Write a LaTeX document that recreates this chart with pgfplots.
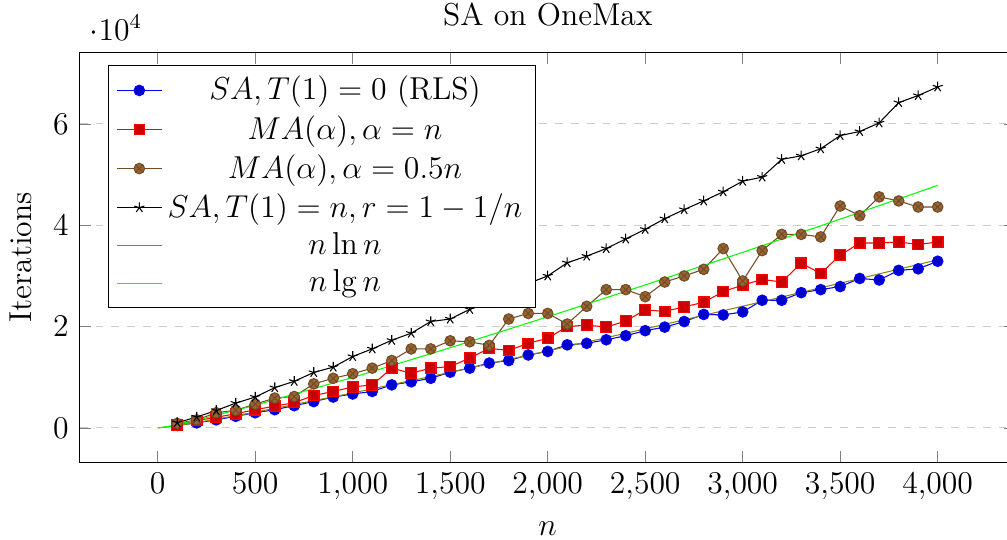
\documentclass[12pt,border=0pt]{standalone}
\usepackage{pgfplots}
\pgfplotsset{compat=1.18}
\begin{document}
\begin{tikzpicture}
\begin{axis}[
  scale only axis,
  width=354.5pt, height=155pt,
  title={SA on OneMax},
  xlabel={$n$}, ylabel={Iterations},
  xtick={0,500,...,4000},
  ytick={0,20000,40000,60000},
  ymajorgrids, grid style={dashed, gray!40},
  legend pos=north west,
  legend cell align=center,
]
\addplot coordinates {(100,500)(200,1000)(300,1600)(400,2300)(500,3000)(600,3600)(700,4400)(800,5200)(900,6100)(1000,6700)(1100,7200)(1200,8500)(1300,9100)(1400,9800)(1500,11000)(1600,11800)(1700,12800)(1800,13300)(1900,14400)(2000,15100)(2100,16400)(2200,16700)(2300,17400)(2400,18200)(2500,19200)(2600,19900)(2700,21000)(2800,22400)(2900,22300)(3000,22900)(3100,25200)(3200,25200)(3300,26700)(3400,27300)(3500,27900)(3600,29500)(3700,29200)(3800,31100)(3900,31400)(4000,32900)};
\addlegendentry{$SA, T(1) = 0$ (RLS)}
\addplot coordinates {(100,600)(200,1450)(300,2100)(400,2800)(500,3600)(600,4300)(700,5000)(800,6400)(900,7200)(1000,8100)(1100,8500)(1200,11800)(1300,10800)(1400,11800)(1500,12100)(1600,13800)(1700,15700)(1800,15300)(1900,16700)(2000,17700)(2100,20000)(2200,20300)(2300,19900)(2400,21100)(2500,23300)(2600,23000)(2700,23900)(2800,24800)(2900,26900)(3000,28200)(3100,29300)(3200,28800)(3300,32500)(3400,30500)(3500,34100)(3600,36500)(3700,36500)(3800,36700)(3900,36200)(4000,36700)};
\addlegendentry{$MA(\alpha), \alpha = n$}
\addplot coordinates {(100,900)(200,1600)(300,3000)(400,3500)(500,4700)(600,5900)(700,6200)(800,8700)(900,9800)(1000,10700)(1100,11800)(1200,13300)(1300,15600)(1400,15600)(1500,17200)(1600,17000)(1700,16300)(1800,21500)(1900,22600)(2000,22600)(2100,20500)(2200,24000)(2300,27300)(2400,27300)(2500,25900)(2600,28800)(2700,30000)(2800,31300)(2900,35400)(3000,29000)(3100,35000)(3200,38200)(3300,38200)(3400,37700)(3500,43800)(3600,41900)(3700,45600)(3800,44800)(3900,43600)(4000,43600)};
\addlegendentry{$MA(\alpha), \alpha = 0.5n$}
\addplot coordinates {(100,1050)(200,2150)(300,3450)(400,4900)(500,6100)(600,7950)(700,9200)(800,10950)(900,12000)(1000,14100)(1100,15600)(1200,17300)(1300,18700)(1400,21000)(1500,21500)(1600,23400)(1700,25000)(1800,26800)(1900,28500)(2000,30000)(2100,32600)(2200,33900)(2300,35400)(2400,37300)(2500,39200)(2600,41300)(2700,43100)(2800,44800)(2900,46600)(3000,48700)(3100,49500)(3200,53000)(3300,53700)(3400,55100)(3500,57700)(3600,58500)(3700,60200)(3800,64200)(3900,65600)(4000,67300)};
\addlegendentry{$SA, T(1) = n, r = 1 - 1/n$}
\addplot[olive, no marks] coordinates {(0,0)(50,196)(100,461)(200,1060)(500,3107)(1000,6908)(1500,10970)(2000,15202)(2500,19560)(3000,24019)(3500,28561)(4000,33176)};
\addlegendentry{$n\ln n$}
\addplot[green, no marks] coordinates {(0,0)(50,282)(100,664)(200,1529)(500,4483)(1000,9966)(1500,15826)(2000,21932)(2500,28219)(3000,34652)(3500,41206)(4000,47863)};
\addlegendentry{$n\lg n$}
\coordinate (sw) at (rel axis cs:0,0);
\end{axis}
\pgfresetboundingbox
\path[use as bounding box] ([xshift=-30.2pt,yshift=-29.5pt]sw) rectangle ++(381.4pt,204.5pt);
\end{tikzpicture}
\end{document}
